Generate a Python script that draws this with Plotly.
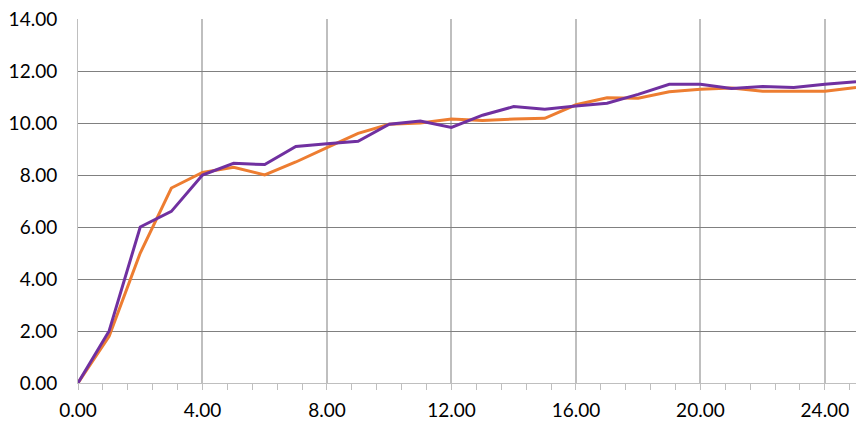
import plotly.graph_objects as go

x_vals = list(range(26))
orange_vals = [0.0, 1.8, 5.0, 7.5, 8.1, 8.3, 8.0, 8.5, 9.05, 9.6, 9.95, 10.0, 10.15,
               10.1, 10.15, 10.18, 10.7, 10.97, 10.95, 11.2, 11.3, 11.35, 11.22,
               11.22, 11.22, 11.37]
purple_vals = [0.0, 2.0, 6.0, 6.6, 8.0, 8.45, 8.4, 9.1, 9.2, 9.3, 9.95, 10.08, 9.83,
               10.3, 10.63, 10.53, 10.65, 10.76, 11.1, 11.49, 11.49, 11.33, 11.4,
               11.37, 11.49, 11.59]

x_ticks = [0, 4, 8, 12, 16, 20, 24]
y_ticks = [0, 2, 4, 6, 8, 10, 12, 14]

fig = go.Figure()
fig.add_trace(go.Scatter(x=x_vals, y=orange_vals, mode="lines",
                         line=dict(color="#ED7D31", width=3)))
fig.add_trace(go.Scatter(x=x_vals, y=purple_vals, mode="lines",
                         line=dict(color="#7030A0", width=3)))

fig.update_layout(
    width=861,
    height=426,
    showlegend=False,
    plot_bgcolor="white",
    paper_bgcolor="white",
    margin=dict(l=78, r=5, t=19, b=43, pad=0),
    font=dict(family="Lato", size=19, color="black"),
    xaxis=dict(
        range=[0, 25],
        tickvals=x_ticks,
        ticktext=[f"{v:.2f}" for v in x_ticks],
        automargin=False,
        showgrid=True,
        gridcolor="#BFBFBF",
        gridwidth=2,
        zeroline=False,
        showline=True,
        linecolor="#BFBFBF",
        linewidth=1,
        ticks="outside",
        ticklen=6,
        tickcolor="#BFBFBF",
        ticklabelstandoff=4,
        minor=dict(dtick=0.8, tick0=0, ticks="outside", ticklen=6,
                   tickcolor="#BFBFBF", showgrid=False),
    ),
    yaxis=dict(
        range=[0, 14],
        tickvals=y_ticks,
        ticktext=[f"{v:.2f}" for v in y_ticks],
        automargin=False,
        showgrid=True,
        gridcolor="#808080",
        gridwidth=1,
        zeroline=False,
        showline=True,
        linecolor="#BFBFBF",
        linewidth=1,
        ticks="",
        ticklabelstandoff=16,
    ),
)

# page body has a default 8px margin; drop it so the chart sits at the corner
fig.write_html("out.html", config={"displayModeBar": False},
               post_script="document.body.style.margin = '0';")
